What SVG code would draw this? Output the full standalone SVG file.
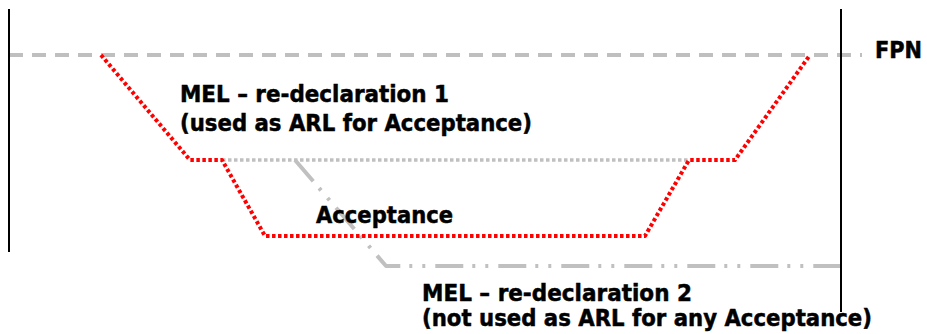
<svg xmlns="http://www.w3.org/2000/svg" width="927" height="334" viewBox="0 0 927 334">
<style>
.t{font-family:"DejaVu Sans","Liberation Sans",sans-serif;font-weight:bold;font-size:22.5px;fill:#000;stroke:#000;stroke-width:0.5}
.axis{stroke:#000;stroke-width:2;fill:none}
.fpn{stroke:#bfbfbf;stroke-width:4;stroke-dasharray:14 9;fill:none}
.red{stroke:#ff0000;stroke-width:4;stroke-dasharray:3.5 2.5;fill:none;stroke-linejoin:round}
.grdot{stroke:#c0c0c0;stroke-width:3.5;stroke-dasharray:3.5 2.5;fill:none}
.dd{stroke:#c0c0c0;stroke-width:4;stroke-dasharray:28 9 3 10 3 10;fill:none;stroke-linejoin:round}
</style>
<rect width="927" height="334" fill="#fff"/>
<g id="connectors">
<line class="fpn" x1="9" y1="55" x2="862" y2="55"/>
<line class="grdot" x1="222" y1="160" x2="690" y2="160"/>
<polyline class="dd" points="295,160 386,266 841,266"/>
<polyline class="red" points="101,55 190,160 222,160 265,236 645,236 689,160 735,160 810,55"/>
<line class="axis" x1="9" y1="9" x2="9" y2="252"/>
<line class="axis" x1="841" y1="9" x2="841" y2="312"/>
</g>
<g id="fpn-label"><text class="t" x="875" y="58" textLength="47" lengthAdjust="spacingAndGlyphs">FPN</text></g>
<g id="mel1">
<text class="t" x="180" y="102" textLength="269" lengthAdjust="spacingAndGlyphs">MEL – re-declaration 1</text>
<text class="t" x="180" y="131" textLength="352" lengthAdjust="spacingAndGlyphs">(used as ARL for Acceptance)</text>
</g>
<g id="acceptance"><text class="t" x="316" y="223" textLength="137" lengthAdjust="spacingAndGlyphs">Acceptance</text></g>
<g id="mel2">
<text class="t" x="422" y="301" textLength="270" lengthAdjust="spacingAndGlyphs">MEL – re-declaration 2</text>
<text class="t" x="422" y="326" textLength="450" lengthAdjust="spacingAndGlyphs">(not used as ARL for any Acceptance)</text>
</g>
</svg>
